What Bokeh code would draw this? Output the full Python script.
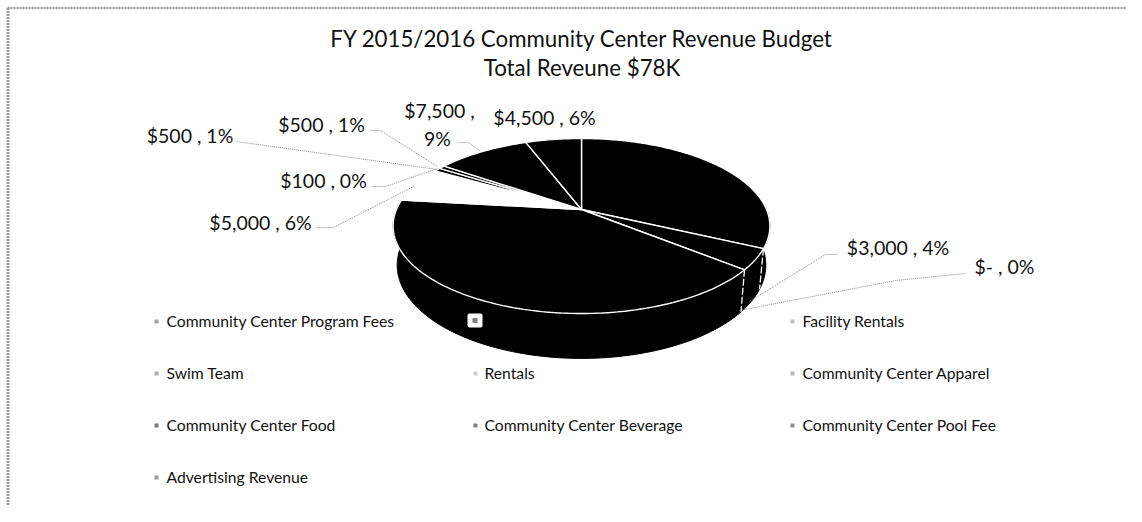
import math
import numpy as np
from bokeh.plotting import figure
from bokeh.models import Range1d
from bokeh.core.properties import value
from bokeh.embed import file_html
from bokeh.resources import INLINE

# ---- data
title_lines = ["FY 2015/2016 Community Center Revenue Budget", "Total Reveune $78K"]
slice_values = [25000, 3000, 0, 32000, 5000, 100, 500, 500, 7500, 4500]
slice_fills = ["#000000", "#000000", "#000000", "#000000", "#ffffff",
               "#000000", "#000000", "#000000", "#000000", "#000000"]
legend_names = ["Community Center Program Fees", "", "Facility Rentals",
                "Swim Team", "Rentals", "Community Center Apparel",
                "Community Center Food", "Community Center Beverage", "Community Center Pool Fee",
                "Advertising Revenue"]
legend_greys = ["#a8a8a8", "#808080", "#c0c0c0", "#b0b0b0", "#cccccc", "#b8b8b8",
                "#7a7a7a", "#808080", "#909090", "#9c9c9c"]
label_texts = ["$500 , 1%", "$500 , 1%", "$100 , 0%", "$5,000 , 6%", "$7,500 ,", "9%",
               "$4,500 , 6%", "$3,000 , 4%", "$- , 0%"]

# ---- layout (pixels of the returned picture)
W, H = 1126, 506
CX, CY = 581, 209
TOP_A, TOP_B, KP = 84.4, 185.0, 0.1886
LOW_A, LOW_B, LOW_DY = 90.0, 181.0, 38.0
FONT = "Lato"

label_pos = [(189.5, 135), (321, 124), (323, 180), (260, 222), (439, 110), (437, 138),
             (544, 117), (897.5, 247), (1004, 266)]
leaders = [
    [(236, 141), (437, 169)],
    [(370, 130), (380, 130), (437, 166)],
    [(372, 186), (385, 186), (437, 168)],
    [(316, 227), (333, 227), (413, 186)],
    [(457, 142), (468, 142), (480, 151)],
    [(837, 254), (825, 254), (749, 301)],
    [(965, 273), (895, 280), (739, 310)],
]
legend_x = [156, 473, 792]
legend_gap = [10, 11, 10]
legend_y = [320, 372, 424, 476]


def disc(theta, a, b, dy):
    u, v = np.sin(theta), np.cos(theta)
    w = 1 + KP * v
    return CX + b * u / w, CY + dy - a * v / w


def arc(t0, t1, a=TOP_A, b=TOP_B, dy=0.0):
    n = max(2, int(abs(t1 - t0) * 60) + 2)
    return disc(np.linspace(t0, t1, n), a, b, dy)


total = sum(slice_values)
edges = np.concatenate([[0], np.cumsum(slice_values)]) / total * 2 * math.pi

p = figure(width=W, height=H, x_range=Range1d(0, W), y_range=Range1d(H, 0),
           toolbar_location=None, output_backend="svg", min_border=0)
p.axis.visible = False
p.grid.visible = False
p.outline_line_color = None
p.background_fill_color = "#ffffff"

# frame of the screenshot
p.line([7, W], [7.5, 7.5], line_color="#9a9a9a", line_width=2, line_dash="2 1")
p.line([7.5, 7.5], [7.5, H], line_color="#9a9a9a", line_width=3, line_dash="2 1")

# wall of the pie
t0, t1 = math.radians(88), math.radians(282)
ux, uy = arc(t0, t1)
lx, ly = arc(t1, t0, LOW_A, LOW_B, LOW_DY)
p.patch(np.r_[ux, lx], np.r_[uy, ly], fill_color="#000000", line_color="#000000")

# top of the pie
for i, fill in enumerate(slice_fills):
    if slice_values[i] == 0:
        continue
    ax, ay = arc(edges[i], edges[i + 1])
    p.patch(np.r_[CX, ax], np.r_[CY, ay], fill_color=fill,
            line_color="#ffffff", line_width=1.4)

# slice edges running down the wall
for i in (1, 2):
    x0, y0 = disc(edges[i], TOP_A, TOP_B, 0)
    x1, y1 = disc(edges[i], LOW_A, LOW_B, LOW_DY)
    p.line([x0, x1], [y0, y1], line_color="#ffffff", line_width=1.3, line_dash="7 2")

# leader lines
for pts in leaders:
    p.line([q[0] for q in pts], [q[1] for q in pts], line_color="#8c8c8c",
           line_width=1, line_dash="1 1")

# title
for txt, yy in zip(title_lines, (38, 67)):
    p.text([581.5], [yy], text=[txt], text_font=value(FONT), text_font_size="22.3px",
           text_color="#111111", text_align="center", text_baseline="middle")

# data labels
for txt, (x, y) in zip(label_texts, label_pos):
    p.text([x], [y], text=[txt], text_font=value(FONT), text_font_size="19.5px",
           text_color="#111111", text_align="center", text_baseline="middle")

# legend
for i, name in enumerate(legend_names):
    r, c = divmod(i, 3)
    x, y = legend_x[c], legend_y[r]
    if name == "":
        p.rect([474.5], [y], width=15, height=14, fill_color="#ffffff", line_color=None,
               border_radius=2)
        p.scatter([474.5], [y], marker="square", size=5, fill_color=legend_greys[i], line_color=None)
        continue
    p.scatter([x + (2 if c == 1 else 0)], [y + 1], marker="square", size=4, fill_color=legend_greys[i], line_color=None)
    p.text([x + legend_gap[c]], [y], text=[name], text_font=value(FONT), text_font_size="15.7px",
           text_color="#111111", text_align="left", text_baseline="middle")

open("out.html", "w").write(file_html(p, INLINE))
